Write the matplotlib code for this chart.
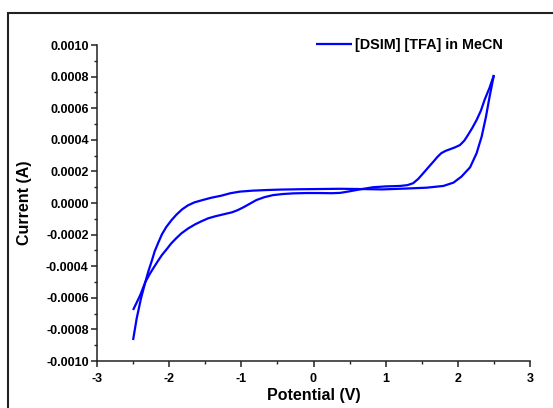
import matplotlib
matplotlib.use("Agg")
import matplotlib.pyplot as plt
from matplotlib.ticker import MultipleLocator, FormatStrFormatter
from matplotlib.patches import Rectangle

# Reverse scan: from +2.5 V back to -2.5 V (current in units of 1e-4 A)
potential_rev = [2.50, 2.44, 2.39, 2.33, 2.26, 2.17, 2.05, 1.94, 1.80, 1.57, 1.20,
                 0.95, 0.70, 0.37, 0.00, -0.19, -0.45, -0.65, -0.85, -1.02, -1.15,
                 -1.28, -1.42, -1.55, -1.65, -1.74, -1.82, -1.90, -1.97, -2.04,
                 -2.10, -2.15, -2.20, -2.24, -2.29, -2.33, -2.39, -2.45, -2.50]
current_rev = [8.10, 6.73, 5.46, 4.20, 3.15, 2.26, 1.67, 1.29, 1.08, 0.97, 0.90,
               0.86, 0.88, 0.90, 0.88, 0.87, 0.85, 0.82, 0.78, 0.72, 0.62,
               0.46, 0.33, 0.17, 0.04, -0.15, -0.40, -0.74, -1.10, -1.52,
               -1.98, -2.50, -3.05, -3.65, -4.35, -5.00, -6.03, -7.30, -8.67]

# Forward scan: from -2.5 V up to +2.5 V
potential_fwd = [-2.50, -2.45, -2.40, -2.33, -2.27, -2.22, -2.16, -2.10, -2.03, -1.97,
                 -1.90, -1.83, -1.74, -1.64, -1.55, -1.46, -1.36, -1.25, -1.13, -1.05,
                 -0.97, -0.88, -0.79, -0.68, -0.56, -0.42, -0.28, -0.10, 0.09, 0.25,
                 0.37, 0.50, 0.64, 0.83, 1.00, 1.20, 1.30, 1.38, 1.45, 1.52,
                 1.59, 1.66, 1.72, 1.77, 1.83, 1.89, 1.96, 2.03, 2.09, 2.14,
                 2.20, 2.26, 2.32, 2.37, 2.44, 2.50]
current_fwd = [-6.77, -6.30, -5.82, -5.00, -4.50, -4.13, -3.70, -3.29, -2.90, -2.55,
               -2.22, -1.92, -1.62, -1.35, -1.15, -0.97, -0.84, -0.72, -0.59, -0.45,
               -0.27, -0.04, 0.19, 0.37, 0.50, 0.57, 0.61, 0.63, 0.63, 0.62,
               0.64, 0.74, 0.86, 1.00, 1.05, 1.08, 1.13, 1.25, 1.52, 1.88,
               2.25, 2.61, 2.93, 3.15, 3.30, 3.40, 3.52, 3.67, 3.95, 4.30,
               4.75, 5.25, 5.85, 6.52, 7.30, 8.10]

series_label = "[DSIM] [TFA] in MeCN"
x_label = "Potential (V)"
y_label = "Current (A)"

plt.rcParams['font.family'] = ['Liberation Sans', 'DejaVu Sans']
plt.rcParams['font.weight'] = 'bold'
plt.rcParams['axes.unicode_minus'] = False

W, H = 553, 408
fig = plt.figure(figsize=(W / 100, H / 100), dpi=100)
ax = fig.add_axes([97 / W, 1 - 361 / H, (530 - 97) / W, (361 - 45) / H])

blue = '#0000ff'
ax.plot(potential_rev, [v * 1e-4 for v in current_rev], color=blue, lw=1.6,
        label=series_label, solid_joinstyle='round', solid_capstyle='butt')
ax.plot(potential_fwd, [v * 1e-4 for v in current_fwd], color=blue, lw=1.6,
        solid_joinstyle='round', solid_capstyle='butt')

ax.set_xlim(-3, 3)
ax.set_ylim(-0.001, 0.001)
ax.xaxis.set_major_locator(MultipleLocator(1))
ax.xaxis.set_minor_locator(MultipleLocator(0.5))
ax.yaxis.set_major_locator(MultipleLocator(0.0002))
ax.yaxis.set_minor_locator(MultipleLocator(0.0001))
ax.yaxis.set_major_formatter(FormatStrFormatter('%.4f'))
ax.xaxis.set_major_formatter(FormatStrFormatter('%d'))

for s in ['top', 'right']:
    ax.spines[s].set_visible(False)
for s in ['left', 'bottom']:
    ax.spines[s].set_linewidth(1.1)
    ax.spines[s].set_color('#222222')

ax.tick_params(which='major', direction='out', length=4, width=1.1, labelsize=9, color='#222222')
ax.tick_params(axis='y', which='major', pad=2)
ax.tick_params(axis='x', which='major', pad=5)
ax.tick_params(which='minor', direction='out', length=2.3, width=1.0, color='#222222')
for lab in ax.get_xticklabels() + ax.get_yticklabels():
    lab.set_fontweight('bold')

ax.set_xlabel(x_label, fontsize=11.5, fontweight='bold', labelpad=2)
ax.set_ylabel(y_label, fontsize=11.5, fontweight='bold', labelpad=10)

leg = ax.legend(loc='center left', bbox_to_anchor=(316 / W, 1 - 45 / H),
                bbox_transform=fig.transFigure, frameon=False, borderpad=0,
                borderaxespad=0, handlelength=2.5, handletextpad=0.2,
                prop={'weight': 'bold', 'size': 10.4})

fig.patches.append(Rectangle((8 / W, -0.2), 2.0, 1.2 - 13 / H,
                             transform=fig.transFigure, fill=False,
                             edgecolor='#222222', lw=1.5, clip_on=False))

fig.savefig('out.png', dpi=100)
